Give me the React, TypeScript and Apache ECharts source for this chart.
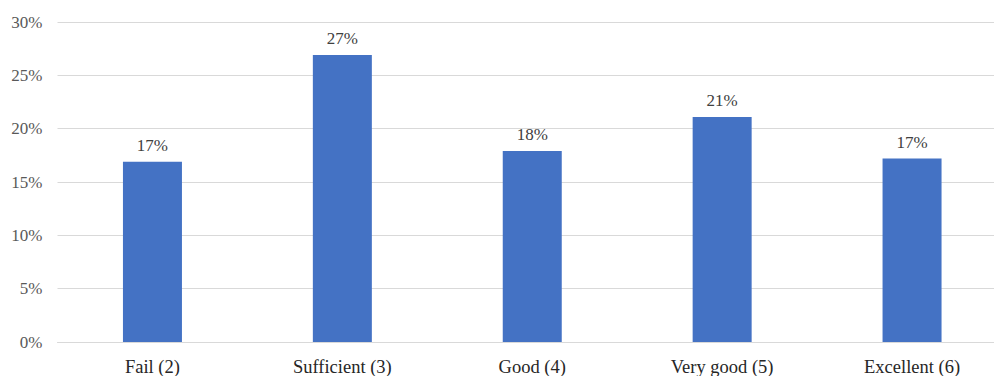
import React, { useEffect, useRef } from "react";
import * as echarts from "echarts";

// Grade distribution (share of students per grade)
const categories: string[] = ["Fail (2)", "Sufficient (3)", "Good (4)", "Very good (5)", "Excellent (6)"];
const shares: number[] = [16.9, 26.9, 17.9, 21.1, 17.2];
const yTicks: number[] = [0, 5, 10, 15, 20, 25, 30];

const FONT = "Liberation Serif";

export default function App() {
  const ref = useRef<HTMLDivElement>(null);

  useEffect(() => {
    if (!ref.current) return;
    const chart = echarts.init(ref.current, undefined, { renderer: "svg" });
    chart.setOption({
      animation: false,
      backgroundColor: "#ffffff",
      textStyle: { fontFamily: FONT },
      grid: {
        left: 57.5,
        top: 22,
        width: 949.5,
        height: 320,
        containLabel: false,
        outerBoundsMode: "none",
      },
      xAxis: {
        type: "category",
        data: categories,
        axisLine: { show: true, lineStyle: { color: "#d9d9d9", width: 1 } },
        axisTick: { show: false },
        axisLabel: {
          color: "#262626",
          fontFamily: FONT,
          fontSize: 18.5,
          margin: 15,
          interval: 0,
        },
      },
      yAxis: {
        type: "value",
        min: yTicks[0],
        max: yTicks[yTicks.length - 1],
        interval: 5,
        axisLine: { show: false },
        axisTick: { show: false },
        splitLine: { lineStyle: { color: "#d9d9d9", width: 1 } },
        axisLabel: {
          color: "#595959",
          fontFamily: FONT,
          fontSize: 17,
          margin: 15,
          formatter: (v: number) => `${v}%`,
        },
      },
      series: [
        {
          type: "bar",
          data: shares,
          barWidth: 59,
          itemStyle: { color: "#4472C4" },
          label: {
            show: true,
            position: "top",
            distance: 8,
            color: "#404040",
            fontFamily: FONT,
            fontSize: 17,
            formatter: (p: any) => `${Math.round(p.value)}%`,
          },
        },
      ],
    });
    return () => chart.dispose();
  }, []);

  return (
    <div
      ref={ref}
      style={{ position: "fixed", left: 0, top: 0, width: 994, height: 376, background: "#fff" }}
    />
  );
}
